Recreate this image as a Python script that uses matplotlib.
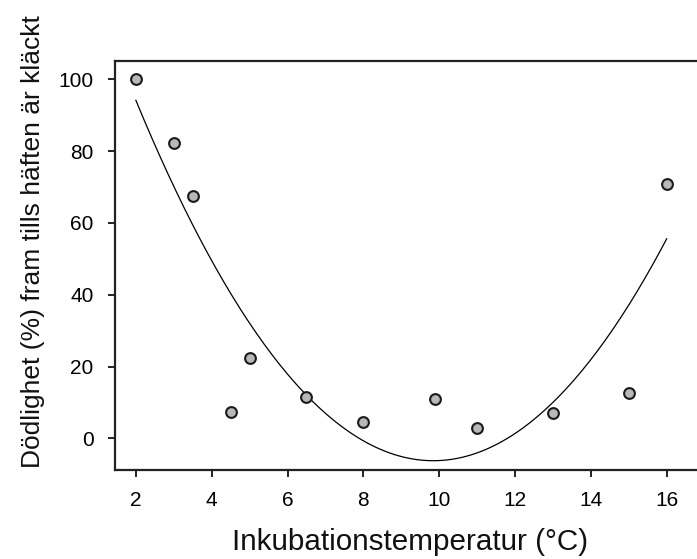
import numpy as np
import matplotlib
matplotlib.use("Agg")
import matplotlib.pyplot as plt

plt.rcParams['font.family'] = ['Liberation Sans', 'DejaVu Sans']

temperature = [2, 3, 3.5, 4.5, 5, 6.5, 8, 9.9, 11, 13, 15, 16]
mortality = [100, 82.3, 67.6, 7.4, 22.4, 11.6, 4.6, 10.9, 2.8, 7.1, 12.5, 70.7]
xticks = [2, 4, 6, 8, 10, 12, 14, 16]
yticks = [0, 20, 40, 60, 80, 100]

fig = plt.figure(figsize=(6.97, 5.59), dpi=100)
ax = fig.add_axes([115/697, 89/559, 582/697, 409/559])

coef = np.polyfit(temperature, mortality, 2)
xf = np.linspace(min(temperature), max(temperature), 200)
ax.plot(xf, np.polyval(coef, xf), color='black', lw=0.9, zorder=2)

ax.scatter(temperature, mortality, s=60, facecolor='#b8b8b8', edgecolor='#1a1a1a',
           linewidths=1.5, zorder=3)

ax.set_xlim(1.45, 16.8)
ax.set_ylim(-8.83, 105.1)
ax.set_xticks(xticks)
ax.set_yticks(yticks)
ax.set_xticklabels([str(t) for t in xticks])
ax.set_yticklabels([str(t) for t in yticks])

for s in ['left', 'bottom', 'top']:
    ax.spines[s].set_linewidth(1.6)
    ax.spines[s].set_color('#222222')
ax.spines['right'].set_visible(False)

ax.tick_params(axis='both', direction='out', length=5, width=1.4, color='#222222',
               labelsize=15, labelcolor='#000000')
ax.tick_params(axis='x', pad=10)
ax.tick_params(axis='y', pad=10.5)

fig.text(410.5/697, 1 - 542/559, 'Inkubationstemperatur (°C)', ha='center', va='center',
         fontsize=21.3, color='#111111')
fig.text(33/697, 1 - 241.5/559, 'Dödlighet (%) fram tills häften är kläckt', ha='center',
         va='center', rotation=90, fontsize=19, color='#111111')

fig.savefig('out.png', dpi=100)
